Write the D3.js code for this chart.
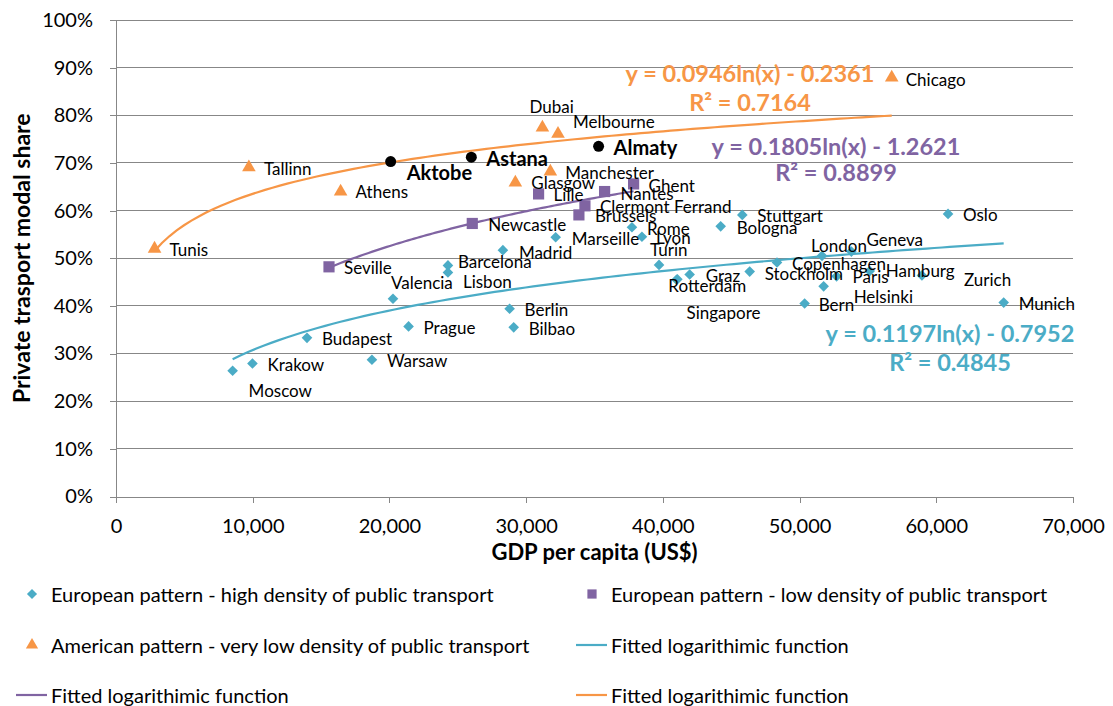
<!DOCTYPE html>
<html><head><meta charset="utf-8">
<script src="https://cdn.jsdelivr.net/npm/d3@7"></script>
<style>
body{margin:0;background:#fff}
text{font-family:Lato,"Open Sans",sans-serif;fill:#000}
</style>
</head><body>
<svg id="chart" width="1113" height="706"></svg>
<script>
// European pattern - high density of public transport
const highCities = ["Moscow","Krakow","Budapest","Warsaw","Valencia","Prague","Barcelona","Lisbon","Madrid","Berlin","Bilbao","Marseille","Rome","Lyon","Turin","Rotterdam","Singapore","Graz","Bologna","Stuttgart","Stockholm","Copenhagen","Bern","London","Helsinki","Paris","Geneva","Hamburg","Zurich","Oslo","Munich"];
const highGdp = [8530,9980,13970,18720,20260,21400,24280,24280,28300,28790,29090,32160,37740,38470,39720,41060,41000,41960,44230,45810,46350,48350,50370,51640,51760,52710,53790,55130,58950,60860,64930];
const highShare = [0.264,0.279,0.333,0.287,0.415,0.357,0.485,0.470,0.517,0.394,0.355,0.544,0.565,0.545,0.486,0.456,0.455,0.466,0.567,0.591,0.472,0.491,0.405,0.505,0.441,0.462,0.514,0.473,0.464,0.593,0.407];

// European pattern - low density of public transport
const lowCities = ["Seville","Newcastle","Lille","Brussels","Clermont Ferrand","Nantes","Ghent"];
const lowGdp = [15580,26060,30910,33860,34300,35740,37860];
const lowShare = [0.482,0.573,0.635,0.591,0.610,0.640,0.656];

// American pattern - very low density of public transport
const amCities = ["Tunis","Tallinn","Athens","Glasgow","Dubai","Manchester","Melbourne","Chicago"];
const amGdp = [2820,9720,16430,29210,31190,31770,32330,56740];
const amShare = [0.520,0.691,0.640,0.659,0.774,0.682,0.761,0.879];

// Kazakh cities
const kzCities = ["Aktobe","Astana","Almaty"];
const kzGdp = [20090,25990,35300];
const kzShare = [0.703,0.712,0.735];

// Fitted logarithmic functions y = a ln(x) + b
const fitHigh = {a:0.1197, b:-0.7952, r2:"0.4845"};
const fitLow  = {a:0.1805, b:-1.2621, r2:"0.8899"};
const fitAm   = {a:0.0946, b:-0.2361, r2:"0.7164"};

const xTicks = [0,10000,20000,30000,40000,50000,60000,70000];
const yTicks = [0,0.1,0.2,0.3,0.4,0.5,0.6,0.7,0.8,0.9,1.0];

const legendLabels = [
  "European pattern - high density of public transport",
  "European pattern - low density of public transport",
  "American pattern - very low density of public transport",
  "Fitted logarithimic function",
  "Fitted logarithimic function",
  "Fitted logarithimic function"
];

// label placement relative to each marker: [dx to text start, dy to text middle]
const labelOffset = {
  Tunis:[15,1], Tallinn:[15,1], Athens:[15,0], Glasgow:[16,0], Dubai:[-13,-21], Manchester:[15,1], Melbourne:[15,-12], Chicago:[14,2],
  Seville:[15,1], Newcastle:[16,1], Lille:[15,1], Brussels:[16,1], "Clermont Ferrand":[15,1], Nantes:[16,2], Ghent:[15,2],
  Aktobe:[16,10], Astana:[15,1], Almaty:[15,1],
  Moscow:[16,20], Krakow:[15,1], Budapest:[15,1], Warsaw:[15,1], Valencia:[-2,-16], Prague:[15,1], Barcelona:[10,-4], Lisbon:[15,9],
  Madrid:[16,2], Berlin:[15,1], Bilbao:[15,1], Marseille:[16,1], Rome:[15,1], Lyon:[14,1], Turin:[-9,-15], Rotterdam:[-9,6],
  Singapore:[10,33], Graz:[16,1], Bologna:[16,1], Stuttgart:[15,1], Stockholm:[15,2], Copenhagen:[15,1], Bern:[14,1], London:[-11,-10],
  Helsinki:[30,10], Paris:[16,0], Geneva:[15,-12], Hamburg:[16,-1], Zurich:[42,4], Oslo:[15,1], Munich:[15,1]
};

const BLUE = "#4BACC6", PURPLE = "#8064A2", ORANGE = "#F79646", GRID = "#878787";

const svg = d3.select("#chart");
const m = {left:116, right:1073, top:20, bottom:496.5};

const x = d3.scaleLinear().domain([0,70000]).range([m.left, m.right]);
const y = d3.scaleLinear().domain([0,1]).range([m.bottom, m.top]);

// gridlines
svg.append("g").selectAll("line").data(yTicks.slice(1)).join("line")
  .attr("x1", m.left).attr("x2", m.right)
  .attr("y1", d => y(d)).attr("y2", d => y(d))
  .attr("stroke", GRID).attr("stroke-width", 1).attr("shape-rendering","crispEdges");

// axes
const xAxis = svg.append("g").attr("transform", `translate(0,${m.bottom})`)
  .call(d3.axisBottom(x).tickValues(xTicks).tickFormat(d3.format(",")).tickSize(6).tickPadding(16));
const yAxis = svg.append("g").attr("transform", `translate(${m.left},0)`)
  .call(d3.axisLeft(y).tickValues(yTicks).tickFormat(d3.format(".0%")).tickSize(6).tickPadding(17));
[xAxis, yAxis].forEach(g => {
  g.select(".domain").attr("stroke", GRID).attr("shape-rendering","crispEdges");
  g.selectAll(".tick line").attr("stroke", GRID).attr("shape-rendering","crispEdges");
  g.selectAll(".tick text").style("font-family","Lato,sans-serif").style("font-size","20px").attr("fill","#000");
});

// axis titles
svg.append("text").attr("x", (m.left+m.right)/2).attr("y", 560)
  .attr("text-anchor","middle").style("font-size","22px").style("font-weight","bold")
  .text("GDP per capita (US$)");
svg.append("text").attr("transform", `translate(30,${(m.top+m.bottom)/2}) rotate(-90)`)
  .attr("text-anchor","middle").style("font-size","23px").style("font-weight","bold")
  .text("Private trasport modal share");

// fitted curves
function curvePts(fit, gdp){
  const lo = d3.min(gdp), hi = d3.max(gdp);
  return d3.range(0, 101).map(i => {
    const v = lo + (hi - lo) * i / 100;
    return [v, fit.a * Math.log(v) + fit.b];
  });
}
const line = d3.line().x(d => x(d[0])).y(d => y(d[1]));
const fits = [[fitHigh, highGdp, BLUE],[fitLow, lowGdp, PURPLE],[fitAm, amGdp, ORANGE]];
fits.forEach(([fit, gdp, c]) => {
  svg.append("path").attr("d", line(curvePts(fit, gdp)))
    .attr("fill","none").attr("stroke", c).attr("stroke-width", 2.2);
});

// markers
const sym = {
  diamond: d3.symbol().type(d3.symbolDiamond2).size(72),
  square: d3.symbol().type(d3.symbolSquare).size(125),
  triangle: d3.symbol().type(d3.symbolTriangle).size(80),
  circle: d3.symbol().type(d3.symbolCircle).size(95)
};
function series(names, gdp, share, shape, color, bold){
  const data = names.map((n,i) => ({name:n, gdp:gdp[i], share:share[i]}));
  const g = svg.append("g");
  g.selectAll("path").data(data).join("path")
    .attr("d", sym[shape])
    .attr("transform", d => `translate(${x(d.gdp)},${y(d.share)})`)
    .attr("fill", color);
  g.selectAll("text").data(data).join("text")
    .attr("x", d => x(d.gdp) + labelOffset[d.name][0])
    .attr("y", d => y(d.share) + labelOffset[d.name][1])
    .attr("dominant-baseline","central")
    .style("font-size", bold ? "20px" : "17px")
    .style("font-weight", bold ? "bold" : "normal")
    .text(d => d.name);
}
series(highCities, highGdp, highShare, "diamond", BLUE, false);
series(lowCities, lowGdp, lowShare, "square", PURPLE, false);
series(amCities, amGdp, amShare, "triangle", ORANGE, false);
series(kzCities, kzGdp, kzShare, "circle", "#000", true);

// equation labels
const fmtEq = f => `y = ${f.a.toFixed(4)}ln(x) - ${Math.abs(f.b).toFixed(4)}`;
const eqs = [[fitAm, ORANGE, 750, 73, 102],[fitLow, PURPLE, 836, 146, 172],[fitHigh, BLUE, 950, 333, 362]];
eqs.forEach(([f, c, cx, y1, y2]) => {
  svg.append("text").attr("x", cx).attr("y", y1).attr("text-anchor","middle").attr("dominant-baseline","central")
    .style("font-size","23.5px").style("font-weight","bold").style("fill", c).text(fmtEq(f));
  svg.append("text").attr("x", cx).attr("y", y2).attr("text-anchor","middle").attr("dominant-baseline","central")
    .style("font-size","23.5px").style("font-weight","bold").style("fill", c).text(`R² = ${f.r2}`);
});

// legend
const lg = svg.append("g").style("font-size","20px");
const rows = [594, 645, 695];
const items = [
  {col:0,row:0,type:"diamond",color:BLUE},
  {col:1,row:0,type:"square",color:PURPLE},
  {col:0,row:1,type:"triangle",color:ORANGE},
  {col:1,row:1,type:"line",color:BLUE},
  {col:0,row:2,type:"line",color:PURPLE},
  {col:1,row:2,type:"line",color:ORANGE}
];
const colX = [32, 592];
items.forEach((it, i) => {
  const cx = colX[it.col], cy = rows[it.row];
  if (it.type === "line") {
    lg.append("line").attr("x1", cx - 16).attr("x2", cx + 15).attr("y1", cy).attr("y2", cy)
      .attr("stroke", it.color).attr("stroke-width", 2.2);
  } else {
    const s = d3.symbol().type(it.type==="diamond"?d3.symbolDiamond2:it.type==="square"?d3.symbolSquare:d3.symbolTriangle)
      .size(it.type==="square"?85:65);
    lg.append("path").attr("d", s).attr("transform", `translate(${cx},${cy})`).attr("fill", it.color);
  }
  lg.append("text").attr("x", cx + 19).attr("y", cy).attr("dominant-baseline","central").text(legendLabels[i]);
});
</script>
</body></html>
